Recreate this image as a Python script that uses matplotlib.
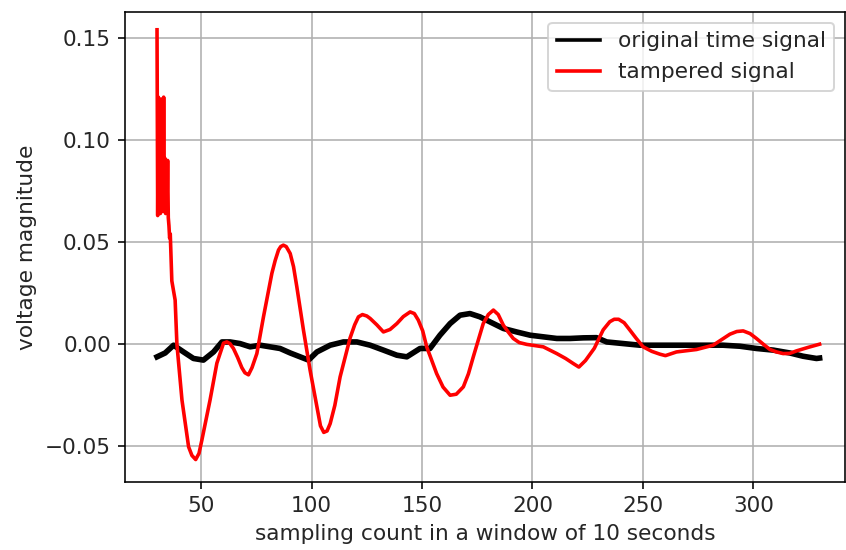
import matplotlib
matplotlib.use("Agg")
import matplotlib.pyplot as plt

# values
orig_x = [30, 33.7, 37.5, 42, 46.5, 51, 55.6, 59.4, 63.1, 67.6, 72.2, 76.7, 81.2,
          85.7, 90.3, 94.8, 98.6, 102.4, 108.4, 114.4, 120.5, 126.5, 132.5, 138.6,
          143.1, 149.1, 153.6, 158.1, 162.7, 167.2, 171.7, 176.2, 180.8, 186.8,
          192.8, 198.9, 204.9, 211, 217, 223, 229, 233.6, 241.1, 248.6, 256.2,
          263.7, 271.3, 278.8, 286.3, 293.9, 301.4, 309, 316.5, 322.5, 328.6, 330]
orig_y = [-0.0062, -0.0043, -0.0005, -0.0038, -0.007, -0.0078, -0.0038, 0.0011,
          0.0011, 0.0003, -0.0013, -0.0005, -0.0013, -0.0021, -0.0043, -0.0062,
          -0.0078, -0.0038, -0.0005, 0.0011, 0.0011, -0.0005, -0.0029, -0.0054,
          -0.0062, -0.0021, -0.0021, 0.0044, 0.0101, 0.0142, 0.015, 0.0134,
          0.0109, 0.0077, 0.006, 0.0044, 0.0036, 0.0028, 0.0028, 0.0031, 0.0032,
          0.0011, 0.0003, -0.0005, -0.0005, -0.0005, -0.0005, -0.0005, -0.0005,
          -0.001, -0.0021, -0.0029, -0.0043, -0.0059, -0.007, -0.0068]

tamp_x = [30.0, 30.3, 30.6, 30.9, 31.2, 31.5, 31.8, 32.1, 32.4, 32.7, 33.0, 33.3,
          33.6, 33.9, 34.2, 34.5, 34.8, 35.1, 35.4, 35.7, 36.0, 36.7, 38.2, 39.0,
          41.3, 44.3, 45.8, 47.5, 49.0, 50.3, 54, 57.1, 60.1, 61.6, 63.0, 64.6,
          66.5, 68.4, 69.8, 71.4, 73.0, 75.2, 78.2, 82, 83.5, 85, 86.0, 87.2,
          88.5, 90.3, 91.8, 93.3, 96.3, 99.3, 102.4, 104.0, 105.5, 107.0, 108.4,
          110.5, 112.9, 117.4, 119.5, 121.2, 123, 125.0, 126.5, 129.5, 132.5,
          135.5, 138.6, 141.5, 144.6, 146.5, 148.3, 150.3, 152.1, 156.6, 159.5,
          162.7, 165.5, 168.7, 171.0, 173.2, 177.7, 180.0, 182.3, 184.5, 186.8,
          189.0, 191.3, 194.0, 197.4, 204.9, 211, 215.0, 218.5, 221, 224, 228,
          232, 235, 237.0, 239, 241.5, 244.1, 247.0, 250.1, 254.0, 257.7, 260.2,
          265.2, 274.3, 281.8, 289.4, 292.5, 295.4, 298.5, 301.4, 304.5, 307.5,
          310.5, 313.5, 316.5, 319.5, 325, 330]
tamp_y = [0.154, 0.063, 0.121, 0.066, 0.118, 0.064, 0.12, 0.068, 0.112, 0.065,
          0.121, 0.066, 0.091, 0.064, 0.089, 0.066, 0.09, 0.062, 0.058, 0.052,
          0.054, 0.031, 0.0216, 0.0, -0.0274, -0.0503, -0.0545, -0.0565, -0.0535,
          -0.047, -0.0274, -0.0093, 0.0005, 0.0011, 0.0003, -0.0021, -0.0065,
          -0.0115, -0.014, -0.015, -0.0115, -0.0046, 0.0134, 0.0347, 0.041,
          0.0461, 0.0478, 0.0485, 0.0478, 0.0444, 0.038, 0.0281, 0.0069, -0.0127,
          -0.0307, -0.040, -0.0432, -0.0425, -0.0389, -0.030, -0.016, 0.003,
          0.0095, 0.0134, 0.0145, 0.0138, 0.0126, 0.0095, 0.006, 0.0072, 0.0101,
          0.0135, 0.0158, 0.015, 0.0118, 0.0065, -0.0013, -0.0144, -0.021,
          -0.025, -0.0245, -0.0209, -0.0145, -0.0062, 0.0101, 0.0145, 0.0167,
          0.0145, 0.0093, 0.006, 0.0028, 0.0008, -0.0001, -0.0013, -0.0046,
          -0.007, -0.0095, -0.0112, -0.008, -0.002, 0.007, 0.011, 0.0122, 0.0122,
          0.0105, 0.0069, 0.0028, -0.0013, -0.0035, -0.0049, -0.0056, -0.0038,
          -0.0026, -0.0005, 0.0049, 0.0062, 0.0065, 0.0052, 0.0028, 0.0, -0.0026,
          -0.0038, -0.0046, -0.0045, -0.0033, -0.0015, 0.0]

plt.rcParams["font.size"] = 10.8
plt.rcParams["text.color"] = "#262626"
plt.rcParams["axes.labelcolor"] = "#262626"
plt.rcParams["xtick.labelcolor"] = "#262626"
plt.rcParams["ytick.labelcolor"] = "#262626"

fig = plt.figure(figsize=(846 / 144, 550 / 144), dpi=144)
ax = fig.add_axes([125 / 846, 1 - 482 / 550, 720 / 846, 470 / 550])

ax.plot(orig_x, orig_y, color="black", lw=2.8, label="original time signal")
ax.plot(tamp_x, tamp_y, color="red", lw=1.8, label="tampered signal")

ax.set_xlim(15.5, 341.5)
ax.set_ylim(-0.0675, 0.1627)
ax.set_xticks([50, 100, 150, 200, 250, 300])
ax.set_yticks([-0.05, 0.0, 0.05, 0.10, 0.15])
ax.grid(True)
ax.set_xlabel("sampling count in a window of 10 seconds")
ax.set_ylabel("voltage magnitude")
leg = ax.legend(loc="upper right")
for line in leg.get_lines():
    line.set_linewidth(1.8)

fig.savefig("out.png", dpi=144)
